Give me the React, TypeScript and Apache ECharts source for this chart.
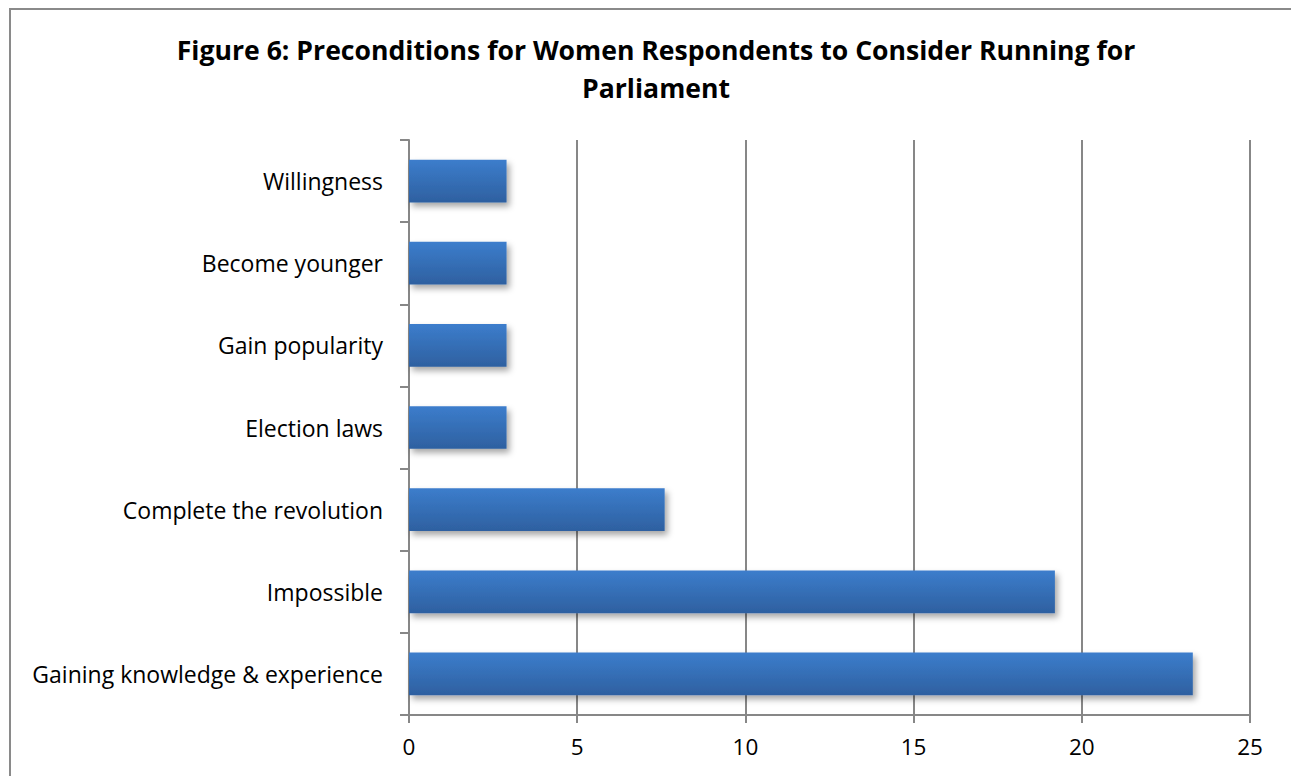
import React, { useEffect, useRef } from "react";
import * as echarts from "echarts";

const categories = [
  "Willingness",
  "Become younger",
  "Gain popularity",
  "Election laws",
  "Complete the revolution",
  "Impossible",
  "Gaining knowledge & experience",
];
const values = [2.9, 2.9, 2.9, 2.9, 7.6, 19.2, 23.3];
const titleText = "Figure 6: Preconditions for Women Respondents to Consider Running for\nParliament";
const xMin = 0;
const xMax = 25;
const xStep = 5;

export default function App() {
  const ref = useRef<HTMLDivElement>(null);
  useEffect(() => {
    const chart = echarts.init(ref.current!, null, { renderer: "svg" });
    const font = "'Open Sans', Lato, sans-serif";
    chart.setOption({
      animation: false,
      backgroundColor: "#ffffff",
      title: {
        text: titleText,
        left: 651,
        textAlign: "center",
        top: 26,
        textStyle: {
          fontFamily: font,
          fontWeight: "bold",
          fontSize: 26.6,
          lineHeight: 38,
          color: "#000",
        },
      },
      graphic: [
        {
          type: "rect",
          z: -1,
          shape: { x: 10, y: 9, width: 1400, height: 900 },
          style: { fill: "none", stroke: "#8a8a8a", lineWidth: 2 },
          silent: true,
        },
      ],
      grid: { left: 409, right: 41, top: 140, bottom: 61, containLabel: false },
      xAxis: {
        type: "value",
        min: xMin,
        max: xMax,
        interval: xStep,
        axisLine: { show: true, lineStyle: { color: "#878787", width: 2 } },
        axisTick: { show: true, length: 8, lineStyle: { color: "#878787", width: 2 } },
        splitLine: { show: true, lineStyle: { color: "#878787", width: 2 } },
        axisLabel: { fontFamily: font, fontSize: 22.5, color: "#000", margin: 20 },
      },
      yAxis: {
        type: "category",
        inverse: true,
        data: categories,
        axisLine: { show: true, lineStyle: { color: "#878787", width: 2 } },
        axisTick: { show: true, length: 9, lineStyle: { color: "#878787", width: 2 } },
        axisLabel: { fontFamily: font, fontSize: 23, color: "#000", margin: 26 },
      },
      series: [
        {
          type: "bar",
          data: values,
          barWidth: "52%",
          itemStyle: {
            color: new echarts.graphic.LinearGradient(0, 0, 0, 1, [
              { offset: 0, color: "#3c7dcc" },
              { offset: 1, color: "#2e60a0" },
            ]),
            shadowColor: "rgba(0,0,0,0.35)",
            shadowBlur: 6,
            shadowOffsetX: 3,
            shadowOffsetY: 4,
          },
        },
      ],
    });
    return () => chart.dispose();
  }, []);
  return (
    <div
      ref={ref}
      style={{ position: "fixed", left: 0, top: 0, width: 1291, height: 776 }}
    />
  );
}
